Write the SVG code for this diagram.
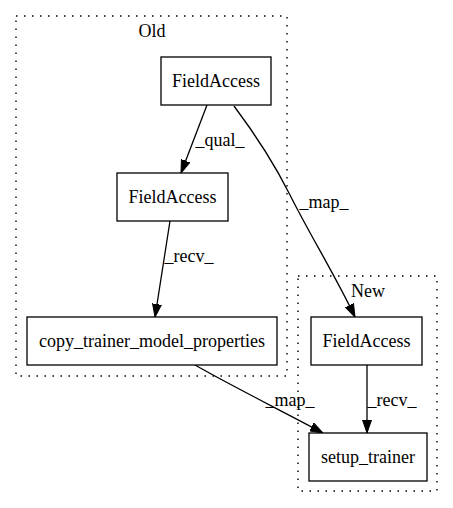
<svg xmlns="http://www.w3.org/2000/svg" width="453" height="508" viewBox="0 0 453 508">
<style>
text{font-family:"Liberation Serif","Times New Roman",serif;font-size:18px;fill:#000}
.cluster{fill:none;stroke:#000;stroke-width:1.4;stroke-dasharray:1.5,6.5}
.node rect{fill:#fff;stroke:#000;stroke-width:1.3}
.edge{fill:none;stroke:#000;stroke-width:1.3;marker-end:url(#arr)}
</style>
<defs>
<marker id="arr" markerWidth="13" markerHeight="10" refX="13" refY="5" orient="auto" markerUnits="userSpaceOnUse">
<path d="M0,0.5 L13,5 L0,9.5 Z" fill="#000" stroke="#000"/>
</marker>
</defs>
<rect width="453" height="508" fill="#fff"/>
<g id="cluster_old">
<rect class="cluster" x="16" y="16" width="271" height="360"/>
<text x="152" y="37" text-anchor="middle">Old</text>
</g>
<g id="cluster_new">
<rect class="cluster" x="298" y="276" width="139" height="215"/>
<text x="368" y="297" text-anchor="middle">New</text>
</g>
<g id="connectors">
<path class="edge" d="M207,105 L181,173"/>
<text x="220" y="146" text-anchor="middle">_qual_</text>
<path class="edge" d="M234,106 C252,130 275,165 290,195 C310,235 335,275 355,317"/>
<text x="324" y="208" text-anchor="middle">_map_</text>
<path class="edge" d="M170,221 L155,317"/>
<text x="189" y="262" text-anchor="middle">_recv_</text>
<path class="edge" d="M195,365 C230,385 280,410 323,433"/>
<text x="290" y="406" text-anchor="middle">_map_</text>
<path class="edge" d="M367,365 L367,433"/>
<text x="392" y="406" text-anchor="middle">_recv_</text>
</g>
<g id="n_fa_top" class="node">
<rect x="161" y="57" width="110" height="48"/>
<text x="216" y="87" text-anchor="middle">FieldAccess</text>
</g>
<g id="n_fa_mid" class="node">
<rect x="117" y="173" width="111" height="48"/>
<text x="172.5" y="203" text-anchor="middle">FieldAccess</text>
</g>
<g id="n_copy" class="node">
<rect x="27" y="317" width="250" height="48"/>
<text x="152" y="347" text-anchor="middle">copy_trainer_model_properties</text>
</g>
<g id="n_fa_new" class="node">
<rect x="311" y="317" width="111" height="48"/>
<text x="366.5" y="347" text-anchor="middle">FieldAccess</text>
</g>
<g id="n_setup" class="node">
<rect x="309" y="433" width="118" height="48"/>
<text x="368" y="463" text-anchor="middle">setup_trainer</text>
</g>
</svg>
